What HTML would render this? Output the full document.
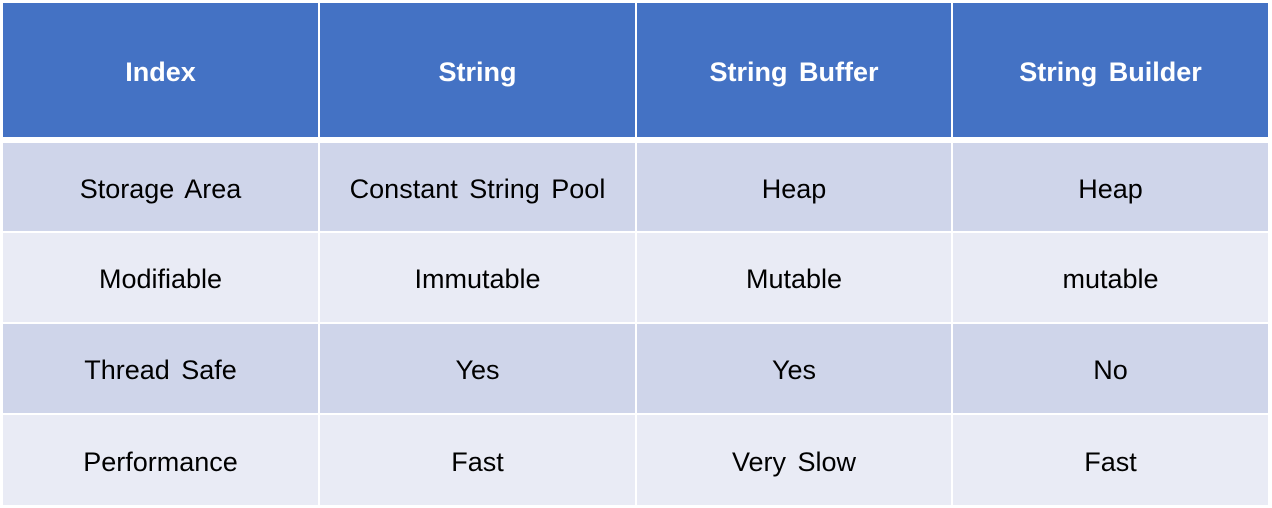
<!DOCTYPE html>
<html><head><style>
body{margin:0;width:1272px;height:508px;background:#fff;position:relative;overflow:hidden;font-family:"Liberation Sans","Noto Sans CJK KR",sans-serif;}
.c{position:absolute;display:flex;align-items:center;justify-content:center;font-size:27px;color:#000;word-spacing:4px;padding-top:4px;box-sizing:border-box;}
.h{background:#4472c4;color:#fff;font-weight:bold;}
.a{background:#cfd5ea;}
.b{background:#e9ebf5;}
</style></head><body>
<div class="c h" style="left:3px;top:3px;width:315px;height:134px">Index</div>
<div class="c h" style="left:320px;top:3px;width:315px;height:134px">String</div>
<div class="c h" style="left:637px;top:3px;width:314px;height:134px">String Buffer</div>
<div class="c h" style="left:953px;top:3px;width:315px;height:134px">String Builder</div>

<div class="c a" style="left:3px;top:143px;width:315px;height:88px">Storage Area</div>
<div class="c a" style="left:320px;top:143px;width:315px;height:88px">Constant String Pool</div>
<div class="c a" style="left:637px;top:143px;width:314px;height:88px">Heap</div>
<div class="c a" style="left:953px;top:143px;width:315px;height:88px">Heap</div>

<div class="c b" style="left:3px;top:233px;width:315px;height:89px">Modifiable</div>
<div class="c b" style="left:320px;top:233px;width:315px;height:89px">Immutable</div>
<div class="c b" style="left:637px;top:233px;width:314px;height:89px">Mutable</div>
<div class="c b" style="left:953px;top:233px;width:315px;height:89px">mutable</div>

<div class="c a" style="left:3px;top:324px;width:315px;height:89px">Thread Safe</div>
<div class="c a" style="left:320px;top:324px;width:315px;height:89px">Yes</div>
<div class="c a" style="left:637px;top:324px;width:314px;height:89px">Yes</div>
<div class="c a" style="left:953px;top:324px;width:315px;height:89px">No</div>

<div class="c b" style="left:3px;top:415px;width:315px;height:90px">Performance</div>
<div class="c b" style="left:320px;top:415px;width:315px;height:90px">Fast</div>
<div class="c b" style="left:637px;top:415px;width:314px;height:90px">Very Slow</div>
<div class="c b" style="left:953px;top:415px;width:315px;height:90px">Fast</div>
</body></html>
